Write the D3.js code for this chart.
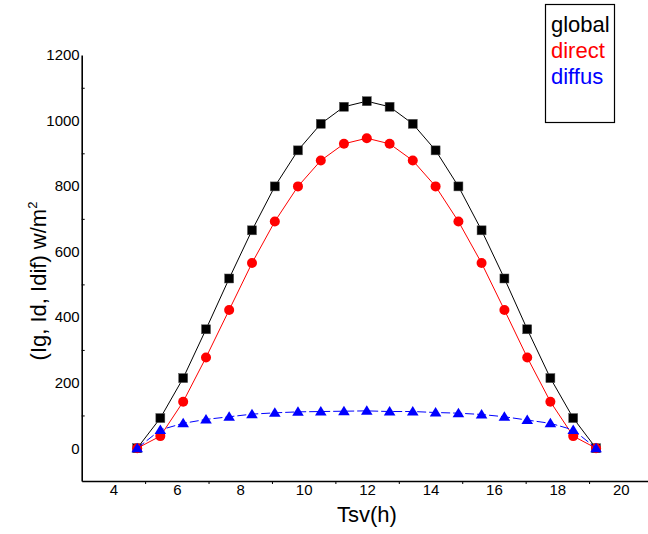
<!DOCTYPE html>
<html>
<head>
<meta charset="utf-8">
<script src="https://cdn.jsdelivr.net/npm/d3@7"></script>
<style>
  body { margin: 0; background: #fff; }
  text { font-family: "Liberation Sans", Arial, sans-serif; }
</style>
</head>
<body>
<div id="chart"></div>
<script>
// solar time (h)
const tsv = [4.75, 5.48, 6.20, 6.92, 7.65, 8.37, 9.09, 9.82, 10.54, 11.27, 11.99,
  12.71, 13.44, 14.16, 14.88, 15.61, 16.33, 17.05, 17.78, 18.50, 19.22];
// irradiance w/m2
const globalVals = [0, 92, 214, 363, 518, 665, 799, 909, 990, 1042, 1059,
  1042, 990, 909, 799, 665, 518, 363, 214, 92, 0];
const directVals = [0, 37, 142, 277, 422, 565, 692, 799, 878, 929, 946,
  929, 878, 799, 692, 565, 422, 277, 142, 37, 0];
const diffusVals = [0, 56, 76, 88, 96, 104, 108, 111, 112, 113, 114,
  112, 112, 109, 107, 103, 96, 86, 76, 56, 0];
const xTicks = [4, 6, 8, 10, 12, 14, 16, 18, 20];
const xMinor = [5, 7, 9, 11, 13, 15, 17, 19];
const yTicks = [0, 200, 400, 600, 800, 1000, 1200];
const yMinor = [100, 300, 500, 700, 900, 1100];
const legendNames = ["global", "direct", "diffus"];

const width = 648, height = 534;
const svg = d3.select("#chart").append("svg")
  .attr("width", width)
  .attr("height", height);

const x = d3.scaleLinear().domain([3, 21]).range([81.7, 652.5]);
const y = d3.scaleLinear().domain([-100, 1200]).range([481, 55]);

const series = [
  { name: "global", vals: globalVals, color: "#000000", shape: "square", dash: null },
  { name: "direct", vals: directVals, color: "#ff0000", shape: "circle", dash: null },
  { name: "diffus", vals: diffusVals, color: "#0000ff", shape: "triangle", dash: "9,3" }
];

// axes
const axisX = svg.append("g").attr("transform", `translate(0,${y(-100)})`);
axisX.call(d3.axisBottom(x).tickValues(xTicks).tickSize(0).tickPadding(3));
axisX.select(".domain").attr("stroke-width", 1.6);
axisX.selectAll("text").style("font-size", "15px");

svg.append("g").attr("transform", `translate(0,${y(-100)})`)
  .call(d3.axisBottom(x).tickValues(xMinor).tickSize(3).tickFormat(""))
  .call(g => g.select(".domain").remove());

const axisY = svg.append("g").attr("transform", `translate(${x(3)},0)`);
axisY.call(d3.axisLeft(y).tickValues(yTicks).tickFormat(d3.format("d")).tickSize(0).tickPadding(2));
axisY.select(".domain").attr("stroke-width", 1.6);
axisY.selectAll("text").style("font-size", "15px");

svg.append("g").attr("transform", `translate(${x(3)},0)`)
  .call(d3.axisRight(y).tickValues(yMinor).tickSize(3).tickFormat(""))
  .call(g => g.select(".domain").remove());

// lines and markers
const line = d3.line().x((d, i) => x(tsv[i])).y(d => y(d));

series.forEach(s => {
  svg.append("path")
    .datum(s.vals)
    .attr("fill", "none")
    .attr("stroke", s.color)
    .attr("stroke-width", 1)
    .attr("stroke-dasharray", s.dash)
    .attr("d", line);

  const g = svg.append("g");
  s.vals.forEach((v, i) => {
    const cx = x(tsv[i]), cy = y(v);
    if (s.shape === "square") {
      g.append("rect")
        .attr("x", cx - 4.5).attr("y", cy - 4.5)
        .attr("width", 9).attr("height", 9)
        .attr("fill", s.color).attr("stroke", "#555").attr("stroke-width", 0.5);
    } else if (s.shape === "circle") {
      g.append("circle")
        .attr("cx", cx).attr("cy", cy).attr("r", 5)
        .attr("fill", s.color);
    } else {
      g.append("path")
        .attr("d", `M${cx},${cy - 5.5}L${cx + 5.8},${cy + 4}L${cx - 5.8},${cy + 4}Z`)
        .attr("fill", s.color);
    }
  });
});

// axis titles
svg.append("text")
  .attr("x", 367)
  .attr("y", 522)
  .attr("text-anchor", "middle")
  .style("font-size", "22px")
  .text("Tsv(h)");

const yTitle = svg.append("text")
  .attr("transform", "translate(46,281) rotate(-90)")
  .attr("text-anchor", "middle")
  .style("font-size", "22px");
yTitle.append("tspan").text("(Ig, Id, Idif) w/m");
yTitle.append("tspan").attr("dy", -9).style("font-size", "13px").text("2");

// legend
svg.append("rect")
  .attr("x", 545.5).attr("y", 4.5)
  .attr("width", 69).attr("height", 118)
  .attr("fill", "#fff")
  .attr("stroke", "#000")
  .attr("stroke-width", 1.2);

svg.selectAll(".legend-item")
  .data(legendNames)
  .enter()
  .append("text")
  .attr("class", "legend-item")
  .attr("x", 551)
  .attr("y", (d, i) => 32 + i * 26)
  .style("font-size", "22px")
  .attr("fill", (d, i) => series[i].color)
  .text(d => d);
</script>
</body>
</html>
